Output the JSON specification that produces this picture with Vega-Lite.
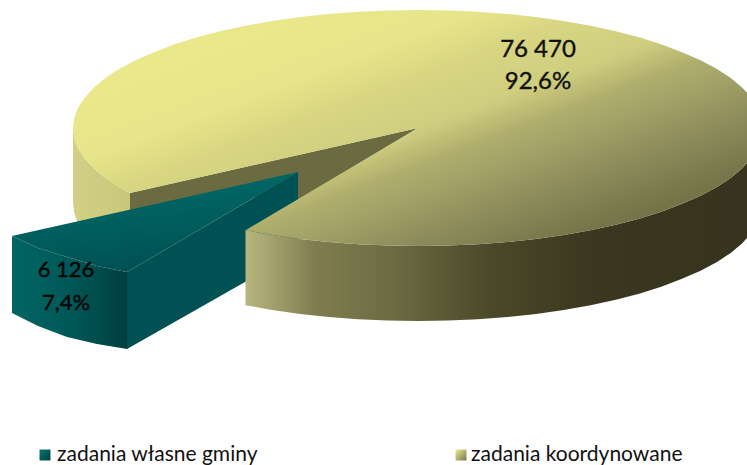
{"$schema":"https://vega.github.io/schema/vega-lite/v6.json","width":747,"height":465,"padding":0,"autosize":{"type":"fit","contains":"padding"},"background":"white","config":{"view":{"stroke":null}},
"datasets":{
"left":[{"s":1,"x":73,"y":128},{"s":2,"x":74.3,"y":138.3},{"s":3,"x":78,"y":148.5},{"s":4,"x":84.8,"y":158.5},{"s":5,"x":94,"y":168.4},{"s":6,"x":105.3,"y":177.9},{"s":7,"x":119,"y":187},{"s":8,"x":130,"y":193},{"s":9,"x":130,"y":268},{"s":10,"x":119,"y":262},{"s":11,"x":105.3,"y":253},{"s":12,"x":94,"y":243.4},{"s":13,"x":84.8,"y":233.5},{"s":14,"x":78,"y":223.5},{"s":15,"x":74.3,"y":213.3},{"s":16,"x":73,"y":203}],
"wall":[{"s":1,"x":418,"y":128},{"s":2,"x":130,"y":193},{"s":3,"x":130,"y":216},{"s":4,"x":298,"y":190},{"s":5,"x":298,"y":200}],
"tealTop":[{"s":1,"x":298,"y":172},{"s":2,"x":12,"y":236},{"s":3,"x":38,"y":248},{"s":4,"x":67,"y":257},{"s":5,"x":97,"y":266},{"s":6,"x":127,"y":272}],
"tealInner":[{"s":1,"x":298,"y":172},{"s":2,"x":127,"y":272},{"s":3,"x":127,"y":349},{"s":4,"x":298,"y":252}],
"tealFront":[{"s":1,"x":12,"y":236},{"s":2,"x":38,"y":248},{"s":3,"x":67,"y":257},{"s":4,"x":97,"y":266},{"s":5,"x":127,"y":272},{"s":6,"x":127,"y":349},{"s":7,"x":97,"y":344},{"s":8,"x":67,"y":337},{"s":9,"x":38,"y":326},{"s":10,"x":12,"y":313}],
"front":[{"s":1,"x":245.5,"y":230.2},{"s":2,"x":272.2,"y":234.9},{"s":3,"x":300,"y":238.9},{"s":4,"x":328.7,"y":242},{"s":5,"x":358,"y":244.2},{"s":6,"x":387.9,"y":245.6},{"s":7,"x":418,"y":246},{"s":8,"x":448.1,"y":245.6},{"s":9,"x":478,"y":244.2},{"s":10,"x":507.3,"y":242},{"s":11,"x":536,"y":238.9},{"s":12,"x":563.8,"y":234.9},{"s":13,"x":590.5,"y":230.2},{"s":14,"x":615.9,"y":224.7},{"s":15,"x":640,"y":218.4},{"s":16,"x":662,"y":211.4},{"s":17,"x":682,"y":203.8},{"s":18,"x":700.6,"y":195.7},{"s":19,"x":717,"y":187},{"s":20,"x":730.7,"y":177.9},{"s":21,"x":742,"y":168.4},{"s":22,"x":747,"y":163},{"s":23,"x":747,"y":238},{"s":24,"x":742,"y":243.4},{"s":25,"x":730.7,"y":252.9},{"s":26,"x":717,"y":262},{"s":27,"x":700.6,"y":270.7},{"s":28,"x":682,"y":278.8},{"s":29,"x":662,"y":286.4},{"s":30,"x":640,"y":293.4},{"s":31,"x":615.9,"y":299.7},{"s":32,"x":590.5,"y":305.2},{"s":33,"x":563.8,"y":309.9},{"s":34,"x":536,"y":313.9},{"s":35,"x":507.3,"y":317},{"s":36,"x":478,"y":319.2},{"s":37,"x":448.1,"y":320.6},{"s":38,"x":418,"y":321},{"s":39,"x":387.9,"y":320.6},{"s":40,"x":358,"y":319.2},{"s":41,"x":328.7,"y":317},{"s":42,"x":300,"y":313.9},{"s":43,"x":272.2,"y":309.9},{"s":44,"x":245.5,"y":305.2}],
"top":[{"s":0,"x":418,"y":128},{"s":1,"x":245.5,"y":230.2},{"s":2,"x":272.2,"y":234.9},{"s":3,"x":300,"y":238.9},{"s":4,"x":328.7,"y":242},{"s":5,"x":358,"y":244.2},{"s":6,"x":387.9,"y":245.6},{"s":7,"x":418,"y":246},{"s":8,"x":448.1,"y":245.6},{"s":9,"x":478,"y":244.2},{"s":10,"x":507.3,"y":242},{"s":11,"x":536,"y":238.9},{"s":12,"x":563.8,"y":234.9},{"s":13,"x":590.5,"y":230.2},{"s":14,"x":615.9,"y":224.7},{"s":15,"x":640,"y":218.4},{"s":16,"x":662,"y":211.4},{"s":17,"x":682,"y":203.8},{"s":18,"x":700.6,"y":195.7},{"s":19,"x":717,"y":187},{"s":20,"x":730.7,"y":177.9},{"s":21,"x":742,"y":168.4},{"s":22,"x":747,"y":163},{"s":26,"x":747,"y":92.5},{"s":27,"x":742,"y":87.6},{"s":28,"x":730.7,"y":78.1},{"s":29,"x":717,"y":69},{"s":30,"x":700.6,"y":60.3},{"s":31,"x":682,"y":52.2},{"s":32,"x":662,"y":44.6},{"s":33,"x":640,"y":37.6},{"s":34,"x":615.9,"y":31.3},{"s":35,"x":590.5,"y":25.8},{"s":36,"x":563.8,"y":21.1},{"s":37,"x":536,"y":17.1},{"s":38,"x":507.3,"y":14},{"s":39,"x":478,"y":11.8},{"s":40,"x":448.1,"y":10.4},{"s":41,"x":418,"y":10},{"s":42,"x":387.9,"y":10.4},{"s":43,"x":358,"y":11.8},{"s":44,"x":328.7,"y":14},{"s":45,"x":300,"y":17.1},{"s":46,"x":272.2,"y":21.1},{"s":47,"x":245.5,"y":25.8},{"s":48,"x":220.1,"y":31.3},{"s":49,"x":196,"y":37.6},{"s":50,"x":174,"y":44.6},{"s":51,"x":154,"y":52.2},{"s":52,"x":135.4,"y":60.3},{"s":53,"x":119,"y":69},{"s":54,"x":105.3,"y":78.1},{"s":55,"x":94,"y":87.6},{"s":56,"x":84.8,"y":97.5},{"s":57,"x":78,"y":107.5},{"s":58,"x":74.3,"y":117.7},{"s":59,"x":73,"y":128},{"s":60,"x":74.3,"y":138.3},{"s":61,"x":78,"y":148.5},{"s":62,"x":84.8,"y":158.5},{"s":63,"x":94,"y":168.4},{"s":64,"x":105.3,"y":177.9},{"s":65,"x":119,"y":187},{"s":66,"x":130,"y":193}],
"labelsBig":[{"t":"76 470","x":538,"y":50},{"t":"92,6%","x":538,"y":82}],
"labelsSmall":[{"t":"6 126","x":66,"y":270},{"t":"7,4%","x":66,"y":303}],
"legendText":[{"t":"zadania własne gminy","x":57,"y":455},{"t":"zadania koordynowane","x":471,"y":455}],
"legendA":[{"x":45,"y":455}],
"legendB":[{"x":461,"y":455}]
},
"encoding":{
"x":{"field":"x","type":"quantitative","axis":null,"scale":{"domain":[0,747],"nice":false,"zero":false}},
"y":{"field":"y","type":"quantitative","axis":null,"scale":{"domain":[465,0],"nice":false,"zero":false}}
},
"layer":[
{"data":{"name":"left"},"mark":{"type":"line","strokeWidth":0,"fill":{"gradient":"linear","x1":0,"y1":0,"x2":1,"y2":0,"stops":[{"offset":0,"color":"#d2d086"},{"offset":1,"color":"#c8c678"}]}},"encoding":{"order":{"field":"s"}}},
{"data":{"name":"wall"},"mark":{"type":"line","strokeWidth":0,"fill":"#6b6b42"},"encoding":{"order":{"field":"s"}}},
{"data":{"name":"tealInner"},"mark":{"type":"line","strokeWidth":0,"fill":"#005153"},"encoding":{"order":{"field":"s"}}},
{"data":{"name":"tealFront"},"mark":{"type":"line","strokeWidth":0,"fill":{"gradient":"linear","x1":0,"y1":0,"x2":1,"y2":0,"stops":[{"offset":0,"color":"#006664"},{"offset":0.5,"color":"#005857"},{"offset":1,"color":"#003f40"}]}},"encoding":{"order":{"field":"s"}}},
{"data":{"name":"tealTop"},"mark":{"type":"line","strokeWidth":0,"fill":{"gradient":"linear","x1":0.35,"y1":0,"x2":0.65,"y2":0.9,"stops":[{"offset":0,"color":"#006e69"},{"offset":1,"color":"#005153"}]}},"encoding":{"order":{"field":"s"}}},
{"data":{"name":"front"},"mark":{"type":"line","strokeWidth":0,"fill":{"gradient":"linear","x1":0,"y1":0,"x2":1,"y2":0,"stops":[{"offset":0,"color":"#b8b67e"},{"offset":0.14,"color":"#7f7d50"},{"offset":0.3,"color":"#6b6a42"},{"offset":0.49,"color":"#4a4929"},{"offset":0.7,"color":"#39371f"},{"offset":1,"color":"#36341e"}]}},"encoding":{"order":{"field":"s"}}},
{"data":{"name":"top"},"mark":{"type":"line","strokeWidth":0,"fill":{"gradient":"linear","x1":0.25,"y1":0.1,"x2":0.95,"y2":0.75,"stops":[{"offset":0,"color":"#e9e88b"},{"offset":0.2,"color":"#e6e589"},{"offset":0.33,"color":"#d8d682"},{"offset":0.49,"color":"#cfce7f"},{"offset":0.6,"color":"#b0ae6c"},{"offset":0.67,"color":"#a5a469"},{"offset":0.94,"color":"#7b7b50"},{"offset":1,"color":"#747449"}]}},"encoding":{"order":{"field":"s"}}},
{"data":{"name":"labelsBig"},"mark":{"type":"text","font":"Lato","fontSize":24,"color":"#111111","stroke":"#111111","strokeWidth":0.4,"align":"center","baseline":"middle"},"encoding":{"text":{"field":"t"}}},
{"data":{"name":"labelsSmall"},"mark":{"type":"text","font":"Lato","fontSize":22,"color":"#050505","stroke":"#050505","strokeWidth":0.4,"align":"center","baseline":"middle"},"encoding":{"text":{"field":"t"}}},
{"data":{"name":"legendA"},"mark":{"type":"point","shape":"square","size":120,"filled":true,"opacity":1,"fill":{"gradient":"linear","x1":0,"y1":0,"x2":1,"y2":1,"stops":[{"offset":0,"color":"#007a74"},{"offset":1,"color":"#003f40"}]}}},
{"data":{"name":"legendB"},"mark":{"type":"point","shape":"square","size":120,"filled":true,"opacity":1,"fill":{"gradient":"linear","x1":0,"y1":0,"x2":1,"y2":1,"stops":[{"offset":0,"color":"#eeec90"},{"offset":1,"color":"#78784c"}]}}},
{"data":{"name":"legendText"},"mark":{"type":"text","font":"Lato","fontSize":21,"color":"#111111","align":"left","baseline":"middle"},"encoding":{"text":{"field":"t"}}}
]}
